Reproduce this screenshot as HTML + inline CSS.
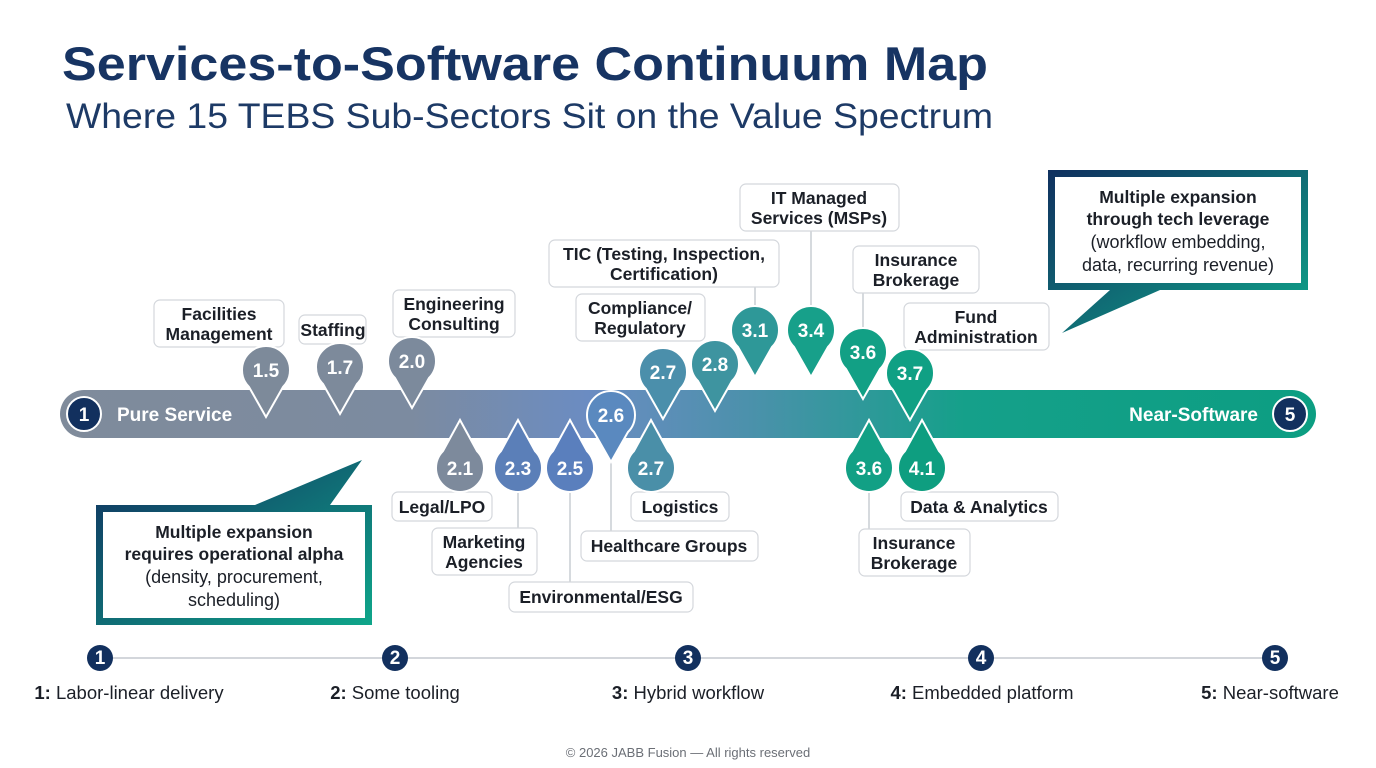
<!DOCTYPE html>
<html><head><meta charset="utf-8"><style>
body{margin:0;background:#fff;}
svg{display:block;font-family:"Liberation Sans",sans-serif;}
.lb{fill:#fff;stroke:#d4d7dc;stroke-width:1.2}
.lt{font-size:17.5px;font-weight:bold;fill:#1b1f27;text-anchor:middle}
.pn{font-size:19px;font-weight:bold;fill:#fff;text-anchor:middle}
.ln{stroke:#c9cdd3;stroke-width:1.5}
.ax{font-size:18.5px;fill:#1b1f27;text-anchor:middle}
</style></head><body>
<svg width="1376" height="768" viewBox="0 0 1376 768">
<defs>
<linearGradient id="bar" x1="0" x2="1">
<stop offset="0" stop-color="#7f8b9b"/><stop offset="0.28" stop-color="#7c8ba0"/>
<stop offset="0.42" stop-color="#6b8cc2"/><stop offset="0.55" stop-color="#4b91ab"/>
<stop offset="0.72" stop-color="#15a08a"/><stop offset="1" stop-color="#0c9e82"/></linearGradient>
<linearGradient id="cb" x1="0" y1="0" x2="1" y2="1"><stop offset="0" stop-color="#10305f"/><stop offset="1" stop-color="#0fa68a"/></linearGradient>
<path id="pd" d="M0,47 L-17,17 A24 24 0 1 1 17,17 Z" stroke="#fff" stroke-width="2"/>
<path id="pu" d="M0,-48 L-17,-17 A24 24 0 1 0 17,-17 Z" stroke="#fff" stroke-width="2"/>
</defs>
<text x="62" y="80" font-size="47" font-weight="bold" fill="#173463" textLength="926" lengthAdjust="spacingAndGlyphs">Services-to-Software Continuum Map</text>
<text x="66" y="128" font-size="35.5" fill="#1d3a66" textLength="927" lengthAdjust="spacingAndGlyphs">Where 15 TEBS Sub-Sectors Sit on the Value Spectrum</text>

<line class="ln" x1="755" y1="287" x2="755" y2="330"/>
<line class="ln" x1="811" y1="231" x2="811" y2="330"/>
<line class="ln" x1="863" y1="293" x2="863" y2="352"/>
<line class="ln" x1="518" y1="468" x2="518" y2="528"/>
<line class="ln" x1="570" y1="468" x2="570" y2="582"/>
<line class="ln" x1="611" y1="417" x2="611" y2="531"/>
<line class="ln" x1="869" y1="468" x2="869" y2="529"/>

<rect x="60" y="390" width="1256" height="48" rx="24" fill="url(#bar)"/>
<circle cx="84" cy="414" r="17" fill="#12305e" stroke="#fff" stroke-width="2"/>
<text x="84" y="421" class="pn">1</text>
<text x="117" y="421" font-size="19" font-weight="bold" fill="#fff">Pure Service</text>
<circle cx="1290" cy="414" r="17" fill="#12305e" stroke="#fff" stroke-width="2"/>
<text x="1290" y="421" class="pn">5</text>
<text x="1258" y="421" font-size="19" font-weight="bold" fill="#fff" text-anchor="end">Near-Software</text>

<rect class="lb" x="154" y="300" width="130" height="47" rx="6"/><text class="lt" x="219" y="320">Facilities</text><text class="lt" x="219" y="340">Management</text>
<rect class="lb" x="299" y="315" width="67" height="29" rx="6"/><text class="lt" x="333" y="336">Staffing</text>
<rect class="lb" x="393" y="290" width="122" height="47" rx="6"/><text class="lt" x="454" y="310">Engineering</text><text class="lt" x="454" y="330">Consulting</text>
<rect class="lb" x="549" y="240" width="230" height="47" rx="6"/><text class="lt" x="664" y="260">TIC (Testing, Inspection,</text><text class="lt" x="664" y="280">Certification)</text>
<rect class="lb" x="576" y="294" width="129" height="47" rx="6"/><text class="lt" x="640" y="314">Compliance/</text><text class="lt" x="640" y="334">Regulatory</text>
<rect class="lb" x="740" y="184" width="159" height="47" rx="6"/><text class="lt" x="819" y="204">IT Managed</text><text class="lt" x="819" y="224">Services (MSPs)</text>
<rect class="lb" x="853" y="246" width="126" height="47" rx="6"/><text class="lt" x="916" y="266">Insurance</text><text class="lt" x="916" y="286">Brokerage</text>
<rect class="lb" x="904" y="303" width="145" height="47" rx="6"/><text class="lt" x="976" y="323">Fund</text><text class="lt" x="976" y="343">Administration</text>
<rect class="lb" x="392" y="492" width="100" height="29" rx="6"/><text class="lt" x="442" y="513">Legal/LPO</text>
<rect class="lb" x="432" y="528" width="105" height="47" rx="6"/><text class="lt" x="484" y="548">Marketing</text><text class="lt" x="484" y="568">Agencies</text>
<rect class="lb" x="509" y="582" width="184" height="30" rx="6"/><text class="lt" x="601" y="603">Environmental/ESG</text>
<rect class="lb" x="631" y="492" width="98" height="29" rx="6"/><text class="lt" x="680" y="513">Logistics</text>
<rect class="lb" x="581" y="531" width="177" height="30" rx="6"/><text class="lt" x="669" y="552">Healthcare Groups</text>
<rect class="lb" x="859" y="529" width="111" height="47" rx="6"/><text class="lt" x="914" y="549">Insurance</text><text class="lt" x="914" y="569">Brokerage</text>
<rect class="lb" x="901" y="492" width="157" height="29" rx="6"/><text class="lt" x="979" y="513">Data &amp; Analytics</text>

<g transform="translate(266,370)" fill="#7d8a9a"><use href="#pd"/><text class="pn" y="7">1.5</text></g>
<g transform="translate(340,367)" fill="#7d8a9b"><use href="#pd"/><text class="pn" y="7">1.7</text></g>
<g transform="translate(412,361)" fill="#7c8a9c"><use href="#pd"/><text class="pn" y="7">2.0</text></g>
<g transform="translate(611,415)" fill="#5a89bf"><use href="#pd"/><text class="pn" y="7">2.6</text></g>
<g transform="translate(663,372)" fill="#4b8fab"><use href="#pd"/><text class="pn" y="7">2.7</text></g>
<g transform="translate(715,364)" fill="#3e94a0"><use href="#pd"/><text class="pn" y="7">2.8</text></g>
<g transform="translate(755,330)" fill="#2e9898"><use href="#pd"/><text class="pn" y="7">3.1</text></g>
<g transform="translate(811,330)" fill="#17a08a"><use href="#pd"/><text class="pn" y="7">3.4</text></g>
<g transform="translate(863,352)" fill="#12a085"><use href="#pd"/><text class="pn" y="7">3.6</text></g>
<g transform="translate(910,373)" fill="#10a084"><use href="#pd"/><text class="pn" y="7">3.7</text></g>
<g transform="translate(460,468)" fill="#7d8a9c"><use href="#pu"/><text class="pn" y="7">2.1</text></g>
<g transform="translate(518,468)" fill="#5b7fb8"><use href="#pu"/><text class="pn" y="7">2.3</text></g>
<g transform="translate(570,468)" fill="#5a7fbd"><use href="#pu"/><text class="pn" y="7">2.5</text></g>
<g transform="translate(651,468)" fill="#4a8fa8"><use href="#pu"/><text class="pn" y="7">2.7</text></g>
<g transform="translate(869,468)" fill="#12a085"><use href="#pu"/><text class="pn" y="7">3.6</text></g>
<g transform="translate(922,468)" fill="#0e9e80"><use href="#pu"/><text class="pn" y="7">4.1</text></g>

<path d="M96,505 L255,505 L362,460 L330,505 L372,505 L372,625 L96,625 Z" fill="url(#cb)"/>
<rect x="103" y="512" width="262" height="106" fill="#fff"/>
<text class="lt" x="234" y="538" font-size="18">Multiple expansion</text>
<text class="lt" x="234" y="560" font-size="18">requires operational alpha</text>
<text x="234" y="583" font-size="18" fill="#1b1f27" text-anchor="middle">(density, procurement,</text>
<text x="234" y="606" font-size="18" fill="#1b1f27" text-anchor="middle">scheduling)</text>

<path d="M1048,170 L1308,170 L1308,290 L1160,290 L1062,333 L1110,290 L1048,290 Z" fill="url(#cb)"/>
<rect x="1055" y="177" width="246" height="106" fill="#fff"/>
<text class="lt" x="1178" y="203" font-size="18">Multiple expansion</text>
<text class="lt" x="1178" y="225" font-size="18">through tech leverage</text>
<text x="1178" y="248" font-size="18" fill="#1b1f27" text-anchor="middle">(workflow embedding,</text>
<text x="1178" y="271" font-size="18" fill="#1b1f27" text-anchor="middle">data, recurring revenue)</text>

<line x1="100" y1="658" x2="1275" y2="658" stroke="#d3d6db" stroke-width="2"/>
<g fill="#12305e">
<circle cx="100" cy="658" r="13"/><circle cx="395" cy="658" r="13"/><circle cx="688" cy="658" r="13"/><circle cx="981" cy="658" r="13"/><circle cx="1275" cy="658" r="13"/></g>
<text x="100" y="664" class="pn" font-size="16">1</text><text x="395" y="664" class="pn" font-size="16">2</text><text x="688" y="664" class="pn" font-size="16">3</text><text x="981" y="664" class="pn" font-size="16">4</text><text x="1275" y="664" class="pn" font-size="16">5</text>
<text class="ax" x="129" y="699"><tspan font-weight="bold">1:</tspan> Labor-linear delivery</text>
<text class="ax" x="395" y="699"><tspan font-weight="bold">2:</tspan> Some tooling</text>
<text class="ax" x="688" y="699"><tspan font-weight="bold">3:</tspan> Hybrid workflow</text>
<text class="ax" x="982" y="699"><tspan font-weight="bold">4:</tspan> Embedded platform</text>
<text class="ax" x="1270" y="699"><tspan font-weight="bold">5:</tspan> Near-software</text>
<text x="688" y="757" font-size="13" fill="#6b6f76" text-anchor="middle">© 2026 JABB Fusion — All rights reserved</text>
</svg>
</body></html>
